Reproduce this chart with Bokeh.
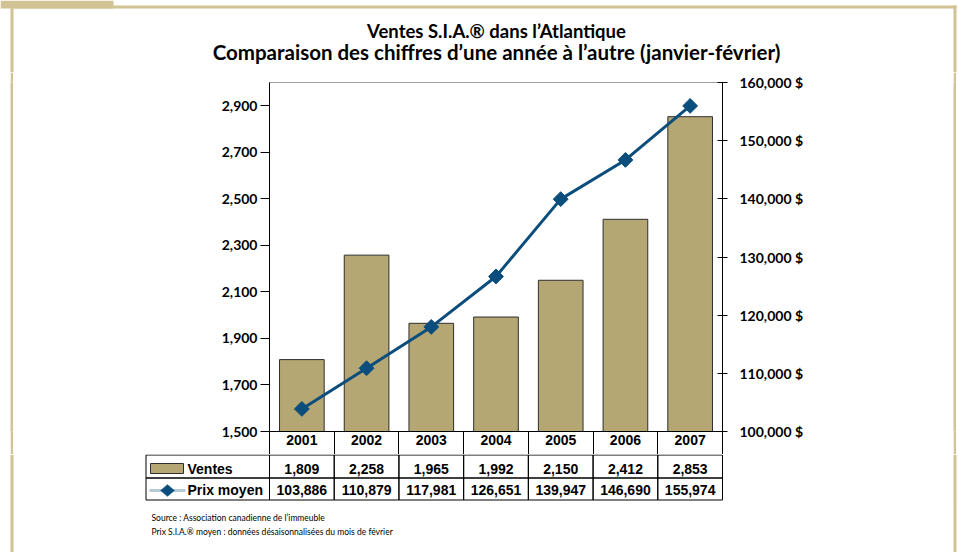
from bokeh.plotting import figure
from bokeh.models import (Range1d, LinearAxis, FixedTicker, Label, BoxAnnotation,
                          PolyAnnotation, ColumnDataSource, Spacer)
from bokeh.layouts import column, row
from bokeh.core.properties import value
from bokeh.embed import file_html
from bokeh.resources import INLINE
import math

# ---------------- data ----------------
years = ["2001", "2002", "2003", "2004", "2005", "2006", "2007"]
ventes = [1809, 2258, 1965, 1992, 2150, 2412, 2853]
prix = [103886, 110879, 117981, 126651, 139947, 146690, 155974]

left_ticks = [1500, 1700, 1900, 2100, 2300, 2500, 2700, 2900]
left_tick_labels = ["1,500", "1,700", "1,900", "2,100", "2,300", "2,500", "2,700", "2,900"]
right_ticks = [100000, 110000, 120000, 130000, 140000, 150000, 160000]
right_tick_labels = ["100,000 $", "110,000 $", "120,000 $", "130,000 $",
                     "140,000 $", "150,000 $", "160,000 $"]

title_lines = ["Ventes S.I.A.\u00ae dans l\u2019Atlantique",
               "Comparaison des chiffres d\u2019une ann\u00e9e \u00e0 l\u2019autre (janvier-f\u00e9vrier)"]
series_names = ["Ventes", "Prix moyen"]
notes = ["Source : Association canadienne de l\u2019immeuble",
         "Prix S.I.A.\u00ae moyen : donn\u00e9es d\u00e9saisonnalis\u00e9es du mois de f\u00e9vrier"]

# ---------------- style ----------------
BAR = "#b5a774"
BAR_EDGE = "#2e2e2e"
LINE = "#0b4d7c"
FRAME = "#d2c394"
TICK_FONT = "Lato"
TABLE_FONT = "Liberation Sans"

W = 958
TOP_H, MID_H, BOT_H = 72, 382, 98
FL, FR = 269, 722          # plot frame left / right (page px)
n = len(years)
centers = [i + 0.5 for i in range(n)]   # category centres on the index axis
edges = list(range(n + 1))              # category boundaries


def blank(w, h, xr=None, yr=None, bg="white"):
    f = figure(width=w, height=h, output_backend="svg", toolbar_location=None,
               x_axis_location=None, y_axis_location=None, min_border=0,
               x_range=xr if xr is not None else Range1d(0, 1),
               y_range=yr if yr is not None else Range1d(0, 1))
    f.grid.visible = False
    f.outline_line_color = None
    f.background_fill_color = bg
    f.border_fill_color = bg
    return f


def sbox(f, left, right, top, bottom, fill=None, line=None, lw=1):
    f.add_layout(BoxAnnotation(left=left, right=right, top=top, bottom=bottom,
                               left_units="screen", right_units="screen",
                               top_units="screen", bottom_units="screen",
                               fill_color=fill if fill else "white",
                               fill_alpha=1.0 if fill else 0.0,
                               line_color=line if line else "white",
                               line_alpha=1.0 if line else 0.0, line_width=lw))


# ---------------- top: page frame + titles ----------------
top = blank(W, TOP_H)
sbox(top, 0, 113, TOP_H, TOP_H - 8, fill=FRAME)
sbox(top, 10, 956, TOP_H - 5, TOP_H - 8, fill=FRAME)
sbox(top, 10, 13, TOP_H - 8, 0, fill=FRAME)
sbox(top, 953, 956, TOP_H - 5, 0, fill=FRAME)
for k, t in enumerate(title_lines):
    top.add_layout(Label(x=496, y=[42, 21][k], x_units="screen", y_units="screen",
                         text=t, text_align="center", text_baseline="middle",
                         text_font="Lato", text_font_style="bold",
                         text_font_size=["18.5px", "20.5px"][k], text_color="black"))

# ---------------- middle: the chart ----------------
p = figure(width=940, height=MID_H, x_range=Range1d(0, n), y_range=Range1d(1500, 3000),
           output_backend="svg", toolbar_location=None, x_axis_location=None,
           min_border_left=FL - 13, min_border_right=953 - FR,
           min_border_top=10, min_border_bottom=23)
p.extra_y_ranges = {"price": Range1d(100000, 160000)}
p.xgrid.visible = False
p.ygrid.visible = False
p.outline_line_color = "#a0a0a0"

ax = p.yaxis[0]
ax.ticker = FixedTicker(ticks=left_ticks)
ax.major_label_overrides = dict(zip(left_ticks, left_tick_labels))
ax.major_tick_out = 9
ax.major_tick_in = 0
ax.minor_tick_line_color = None
ax.axis_line_color = "black"
ax.major_tick_line_color = "black"
ax.major_label_text_font = TICK_FONT
ax.major_label_text_font_style = "bold"
ax.major_label_text_font_size = "14px"
ax.major_label_text_color = "black"
ax.major_label_standoff = 3

rax = LinearAxis(y_range_name="price", ticker=FixedTicker(ticks=right_ticks),
                 major_label_overrides=dict(zip(right_ticks, right_tick_labels)))
rax.major_tick_out = 5
rax.major_tick_in = 5
rax.minor_tick_line_color = None
rax.axis_line_color = "black"
rax.major_tick_line_color = "black"
rax.major_label_text_font = TICK_FONT
rax.major_label_text_font_style = "bold"
rax.major_label_text_font_size = "14px"
rax.major_label_text_color = "black"
rax.major_label_standoff = 12
p.add_layout(rax, "right")

# year header row of the table = bottom axis (labels at centres, separators at edges)
xa = LinearAxis(ticker=FixedTicker(ticks=centers, minor_ticks=edges),
                major_label_overrides=dict(zip(centers, years)))
xa.axis_line_color = "black"
xa.major_tick_line_color = None
xa.major_tick_out = 0
xa.major_tick_in = 0
xa.minor_tick_line_color = "black"
xa.minor_tick_out = 23
xa.minor_tick_in = 0
xa.major_label_standoff = -20
xa.major_label_text_font = TABLE_FONT
xa.major_label_text_font_style = "bold"
xa.major_label_text_font_size = "14px"
xa.major_label_text_color = "black"
p.add_layout(xa, "below")

src = ColumnDataSource(dict(x=centers, years=years, ventes=ventes, prix=prix))
p.vbar(x="x", top="ventes", bottom=left_ticks[0], width=0.69, source=src,
       fill_color=BAR, line_color=BAR_EDGE, line_width=1)
p.line(x="x", y="prix", source=src, y_range_name="price",
       line_color=LINE, line_width=3)
p.scatter(x="x", y="prix", source=src, y_range_name="price",
          marker="square", angle=math.pi / 4, size=10.5,
          fill_color=LINE, line_color=LINE)

lstrip = blank(3, MID_H, bg=FRAME)
rstrip = blank(3, MID_H, bg=FRAME)
middle = row(Spacer(width=10, height=MID_H), lstrip, p, rstrip,
             Spacer(width=2, height=MID_H))

# ---------------- bottom: rest of the table + notes ----------------
k_px = (FR - FL) / n
bot = blank(W, BOT_H, xr=Range1d(-FL / k_px, (W - FL) / k_px), yr=Range1d(BOT_H, 0))
sbox(bot, 10, 13, BOT_H, 0, fill=FRAME)
sbox(bot, 953, 956, BOT_H, 0, fill=FRAME)

rows_y = [0.5, 23.5, 45.5]
ql, qr, qt, qb = [], [], [], []
for r in range(2):
    for i in range(n):
        ql.append(edges[i]); qr.append(edges[i + 1])
        qt.append(rows_y[r]); qb.append(rows_y[r + 1])
bot.quad(left=ql, right=qr, top=qt, bottom=qb, fill_color=None,
         line_color="black", line_width=1)
for r in range(2):
    sbox(bot, 145.5, 269, BOT_H - rows_y[r], BOT_H - rows_y[r + 1], line="black")

row_mid = [14.5, 35]
bot.text(x=centers * 2, y=[row_mid[0]] * n + [row_mid[1]] * n,
         text=[f"{v:,}" for v in ventes] + [f"{v:,}" for v in prix],
         text_font=value(TABLE_FONT), text_font_style="bold", text_font_size="14px",
         text_align="center", text_baseline="middle", text_color="black")

# legend keys
sbox(bot, 150, 183, BOT_H - 9, BOT_H - 19, fill=BAR, line=BAR_EDGE)
bot.add_layout(PolyAnnotation(xs=[149, 185], ys=[BOT_H - 36, BOT_H - 36],
                              xs_units="screen", ys_units="screen", fill_alpha=0,
                              line_color=LINE, line_width=3))
bot.add_layout(PolyAnnotation(xs=[160, 167, 174, 167],
                              ys=[BOT_H - 36, BOT_H - 30, BOT_H - 36, BOT_H - 42],
                              xs_units="screen", ys_units="screen", fill_color=LINE,
                              fill_alpha=1, line_color=LINE, line_width=1))
for k, name in enumerate(series_names):
    bot.add_layout(Label(x=187, y=BOT_H - row_mid[k], x_units="screen", y_units="screen",
                         text=name, text_align="left", text_baseline="middle",
                         text_font=TABLE_FONT, text_font_style="bold",
                         text_font_size="14px", text_color="black"))
for k, t in enumerate(notes):
    bot.add_layout(Label(x=151, y=[35, 21][k], x_units="screen", y_units="screen",
                         text=t, text_align="left", text_baseline="middle",
                         text_font="Lato", text_font_size="8.5px", text_color="black"))

page = column(top, middle, bot)
open("out.html", "w").write(file_html(page, INLINE))
